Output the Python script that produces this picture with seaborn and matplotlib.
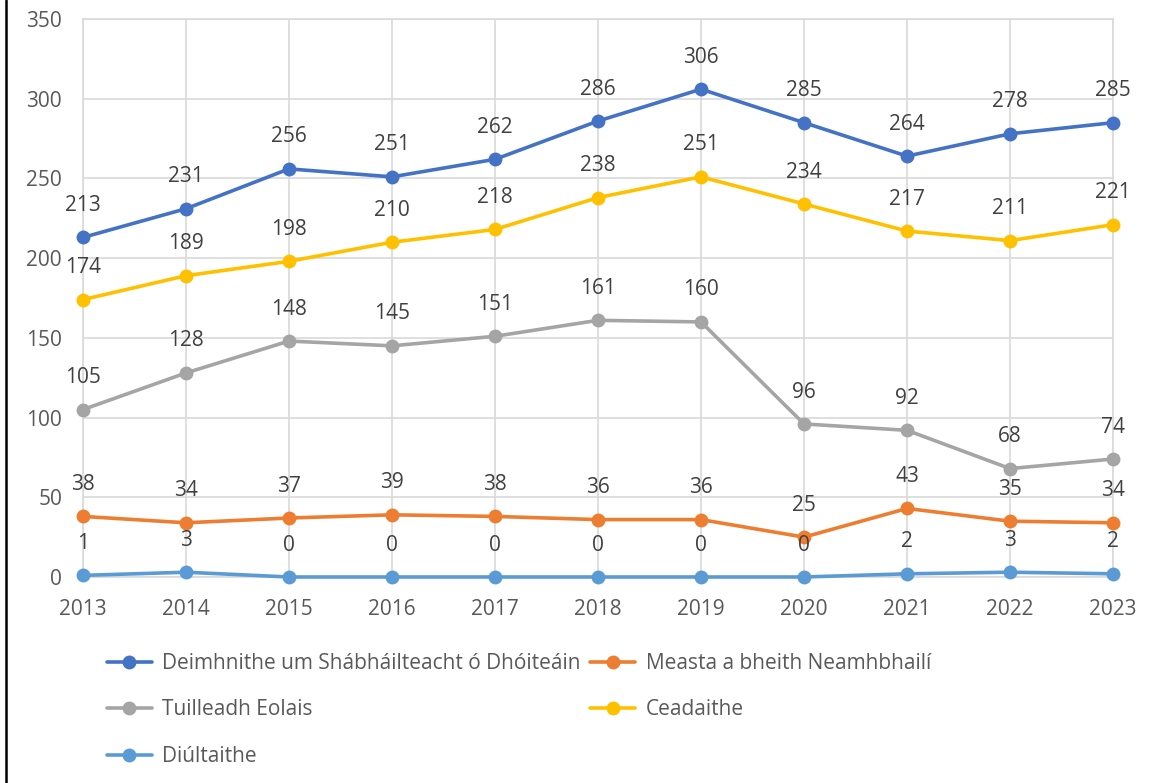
import matplotlib
matplotlib.use("Agg")
import matplotlib.pyplot as plt
from matplotlib.lines import Line2D
import seaborn as sns
import pandas as pd

years = [2013, 2014, 2015, 2016, 2017, 2018, 2019, 2020, 2021, 2022, 2023]
deimhnithe = [213, 231, 256, 251, 262, 286, 306, 285, 264, 278, 285]
measta = [38, 34, 37, 39, 38, 36, 36, 25, 43, 35, 34]
tuilleadh = [105, 128, 148, 145, 151, 161, 160, 96, 92, 68, 74]
ceadaithe = [174, 189, 198, 210, 218, 238, 251, 234, 217, 211, 221]
diultaithe = [1, 3, 0, 0, 0, 0, 0, 0, 2, 3, 2]

series_names = [
    "Deimhnithe um Shábháilteacht ó Dhóiteáin",
    "Measta a bheith Neamhbhailí",
    "Tuilleadh Eolais",
    "Ceadaithe",
    "Diúltaithe",
]
series_values = [deimhnithe, measta, tuilleadh, ceadaithe, diultaithe]
colors = ["#4472C4", "#ED7D31", "#A5A5A5", "#FFC000", "#5B9BD5"]

y_ticks = [0, 50, 100, 150, 200, 250, 300, 350]

sns.set_theme(style="white")
plt.rcParams["font.family"] = ["Open Sans", "DejaVu Sans"]

fig = plt.figure(figsize=(11.65, 7.83), dpi=100)
ax = fig.add_axes([0.0712, 0.2631, 0.8842, 0.7126])

grid_c = "#D9D9D9"
text_c = "#595959"
fs = 15

frames = []
for name, vals in zip(series_names, series_values):
    frames.append(pd.DataFrame({"year": years, "value": vals, "series": name}))
df = pd.concat(frames, ignore_index=True)

handles = {}
for name, color in zip(series_names, colors):
    sub = df[df["series"] == name]
    sns.lineplot(data=sub, x="year", y="value", ax=ax, color=color,
                 linewidth=2.6, marker="o", markersize=10,
                 markeredgewidth=0, clip_on=False, zorder=3, legend=False)
    handles[name] = Line2D([], [], color=color, linewidth=2.6, marker="o",
                           markersize=10, markeredgewidth=0)
    for x, v in zip(sub["year"], sub["value"]):
        ax.annotate(str(v), (x, v), xytext=(0, 23), textcoords="offset points",
                    ha="center", va="center", fontsize=fs, color="#404040",
                    zorder=4)

ax.set_xlim(years[0], years[-1])
ax.set_ylim(0, 350)
ax.set_xticks(years)
ax.set_xticklabels([str(y) for y in years])
ax.set_yticks(y_ticks)
ax.set_xlabel("")
ax.set_ylabel("")
ax.grid(True, color=grid_c, linewidth=1.2, zorder=0)
ax.set_axisbelow(True)
for sp in ax.spines.values():
    sp.set_visible(True)
    sp.set_color(grid_c)
    sp.set_linewidth(1.2)
ax.tick_params(axis="both", length=0, labelsize=fs, labelcolor=text_c)
ax.tick_params(axis="y", pad=15)
ax.tick_params(axis="x", pad=16)

order = [series_names[0], series_names[2], series_names[4],
         series_names[1], series_names[3]]
fig.legend([handles[n] for n in order], order, loc="upper left",
           bbox_to_anchor=(0.0918, 0.166), ncol=2, frameon=False,
           fontsize=fs, labelcolor=text_c, handlelength=2.16,
           handletextpad=0.5, columnspacing=0.45, labelspacing=1.22,
           borderaxespad=0, borderpad=0)

fig.add_artist(Line2D([0.0052, 0.0052], [0, 1], color="black", linewidth=1.8,
                      transform=fig.transFigure))

fig.savefig("out.png", dpi=100, facecolor="white")
